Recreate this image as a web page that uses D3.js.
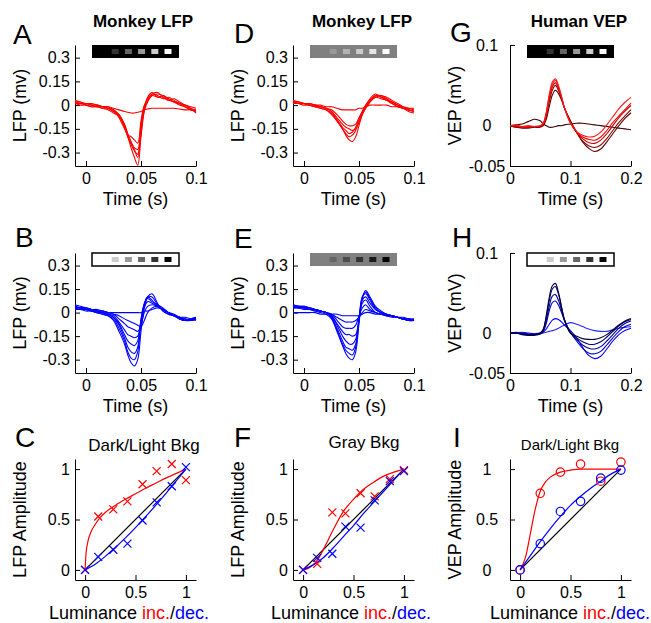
<!DOCTYPE html>
<html>
<head>
<meta charset="utf-8">
<script src="https://cdn.jsdelivr.net/npm/d3@7"></script>
<style>
body { margin: 0; background: #fff; }
svg { font-family: "Liberation Sans", Arial, Helvetica, sans-serif; }
.axis path, .axis line { stroke: #000; stroke-width: 1; }
.axis text { font-family: "Liberation Sans", Arial, Helvetica, sans-serif; font-size: 16px; fill: #000; }
</style>
</head>
<body>
<svg id="fig" width="651" height="623"></svg>
<script>
// ---- monkey LFP traces (mV), time in ms ----
const lfpTimeMs = [-10, -5, 0, 5, 10, 15, 20, 25, 30, 35, 38, 41, 44, 47, 50, 53, 56, 60, 65, 70, 75, 80, 85, 90, 95, 100];

// A: luminance increments, dark background
const lfpIncDark = [
    [0.02, 0.01, 0.01, 0.0, 0.0, -0.01, -0.01, -0.02, -0.03, -0.04, -0.045, -0.05, -0.05, -0.045, -0.04, -0.03, -0.025, -0.02, -0.02, -0.02, -0.02, -0.02, -0.025, -0.03, -0.03, -0.035],
    [0.03, 0.02, 0.01, 0.01, 0.0, -0.01, -0.01, -0.03, -0.08, -0.15, -0.19, -0.2, -0.22, -0.24, -0.1, 0.0, 0.03, 0.06, 0.05, 0.05, 0.03, 0.02, 0.01, 0.0, -0.01, -0.02],
    [0.02, 0.02, 0.0, 0.0, -0.01, -0.01, -0.02, -0.04, -0.07, -0.14, -0.2, -0.24, -0.27, -0.28, -0.12, -0.01, 0.04, 0.07, 0.06, 0.04, 0.05, 0.03, 0.01, 0.0, -0.02, -0.03],
    [0.01, 0.0, 0.0, -0.01, -0.01, -0.02, -0.02, -0.04, -0.06, -0.13, -0.19, -0.25, -0.29, -0.31, -0.15, -0.02, 0.05, 0.08, 0.05, 0.06, 0.04, 0.02, 0.0, -0.01, -0.03, -0.04],
    [0.02, 0.01, 0.01, 0.0, 0.0, -0.01, -0.02, -0.03, -0.06, -0.12, -0.18, -0.23, -0.28, -0.33, -0.18, -0.03, 0.03, 0.07, 0.08, 0.05, 0.03, 0.04, 0.02, 0.0, -0.02, -0.05],
    [0.01, 0.01, 0.0, -0.01, -0.01, -0.02, -0.03, -0.05, -0.07, -0.13, -0.2, -0.27, -0.33, -0.38, -0.2, -0.04, 0.02, 0.06, 0.07, 0.06, 0.04, 0.02, 0.01, -0.01, -0.03, -0.04]
];

// B: luminance decrements, light background
const lfpDecLight = [
    [0.03, 0.03, 0.02, 0.02, 0.01, 0.01, 0.0, 0.0, 0.0, 0.0, 0.0, 0.0, 0.0, 0.0, 0.0, 0.01, 0.01, 0.02, 0.03, 0.02, 0.0, -0.02, -0.03, -0.03, -0.04, -0.04],
    [0.04, 0.03, 0.03, 0.02, 0.01, 0.01, 0.0, -0.01, -0.02, -0.04, -0.05, -0.06, -0.07, -0.08, -0.09, -0.05, 0.0, 0.03, 0.04, 0.02, 0.0, -0.02, -0.03, -0.05, -0.04, -0.05],
    [0.05, 0.04, 0.03, 0.02, 0.02, 0.01, 0.0, -0.01, -0.04, -0.07, -0.09, -0.1, -0.11, -0.12, -0.08, 0.0, 0.04, 0.05, 0.04, 0.02, 0.0, -0.02, -0.04, -0.05, -0.05, -0.04],
    [0.03, 0.03, 0.02, 0.02, 0.01, 0.0, -0.01, -0.02, -0.06, -0.11, -0.14, -0.15, -0.16, -0.15, -0.06, 0.03, 0.07, 0.06, 0.04, 0.02, 0.0, -0.02, -0.03, -0.04, -0.05, -0.04],
    [0.04, 0.03, 0.02, 0.01, 0.01, 0.0, -0.01, -0.03, -0.07, -0.14, -0.18, -0.2, -0.21, -0.18, -0.05, 0.05, 0.09, 0.07, 0.05, 0.03, 0.0, -0.02, -0.03, -0.05, -0.04, -0.03],
    [0.03, 0.03, 0.02, 0.01, 0.0, 0.0, -0.01, -0.03, -0.08, -0.16, -0.22, -0.25, -0.26, -0.22, -0.04, 0.06, 0.1, 0.08, 0.04, 0.02, 0.0, -0.01, -0.03, -0.04, -0.05, -0.04],
    [0.02, 0.02, 0.01, 0.01, 0.0, -0.01, -0.02, -0.04, -0.1, -0.18, -0.25, -0.29, -0.3, -0.25, -0.06, 0.05, 0.1, 0.1, 0.05, 0.01, -0.01, -0.02, -0.04, -0.05, -0.04, -0.04],
    [0.03, 0.02, 0.02, 0.01, 0.0, -0.01, -0.02, -0.05, -0.12, -0.2, -0.27, -0.32, -0.34, -0.3, -0.12, 0.03, 0.1, 0.12, 0.06, 0.01, -0.01, -0.02, -0.04, -0.05, -0.04, -0.03]
];

// D: increments on gray background
const lfpIncGray = [
    [0.02, 0.02, 0.01, 0.01, 0.0, 0.0, -0.01, -0.01, -0.02, -0.03, -0.03, -0.03, -0.03, -0.03, -0.02, -0.02, -0.01, 0.0, 0.0, 0.0, 0.0, -0.01, -0.01, -0.02, -0.02, -0.02],
    [0.02, 0.01, 0.01, 0.0, 0.0, -0.01, -0.02, -0.03, -0.06, -0.1, -0.12, -0.13, -0.13, -0.12, -0.08, -0.04, -0.01, 0.03, 0.05, 0.04, 0.03, 0.01, 0.0, -0.01, -0.02, -0.03],
    [0.03, 0.02, 0.01, 0.01, 0.0, -0.01, -0.02, -0.04, -0.08, -0.12, -0.14, -0.15, -0.16, -0.15, -0.11, -0.06, -0.02, 0.02, 0.06, 0.05, 0.03, 0.02, 0.0, -0.02, -0.03, -0.04],
    [0.02, 0.02, 0.01, 0.0, -0.01, -0.01, -0.02, -0.04, -0.09, -0.14, -0.16, -0.18, -0.17, -0.14, -0.09, -0.04, 0.0, 0.04, 0.07, 0.05, 0.04, 0.01, -0.01, -0.02, -0.04, -0.05],
    [0.01, 0.01, 0.01, 0.0, -0.01, -0.02, -0.03, -0.05, -0.1, -0.15, -0.18, -0.2, -0.19, -0.16, -0.1, -0.05, -0.01, 0.03, 0.06, 0.06, 0.04, 0.02, 0.0, -0.02, -0.03, -0.04],
    [0.02, 0.01, 0.0, 0.0, -0.01, -0.02, -0.03, -0.06, -0.1, -0.15, -0.19, -0.22, -0.23, -0.2, -0.13, -0.06, -0.02, 0.02, 0.05, 0.06, 0.05, 0.03, 0.01, -0.01, -0.03, -0.04]
];

// E: decrements on gray background
const lfpDecGray = [
    [0.0, 0.0, 0.0, 0.0, 0.0, -0.01, -0.01, -0.01, -0.01, -0.02, -0.02, -0.02, -0.02, -0.02, -0.02, -0.01, 0.0, 0.0, -0.01, -0.01, -0.02, -0.02, -0.03, -0.03, -0.04, -0.04],
    [0.04, 0.04, 0.03, 0.03, 0.02, 0.01, 0.0, -0.01, -0.03, -0.05, -0.06, -0.06, -0.06, -0.05, -0.03, 0.0, 0.02, 0.01, 0.0, -0.01, -0.01, -0.02, -0.03, -0.04, -0.04, -0.05],
    [0.05, 0.04, 0.04, 0.03, 0.02, 0.01, 0.0, -0.01, -0.05, -0.09, -0.1, -0.1, -0.1, -0.08, -0.02, 0.03, 0.05, 0.02, 0.0, -0.01, -0.02, -0.02, -0.03, -0.04, -0.04, -0.05],
    [0.04, 0.04, 0.03, 0.02, 0.02, 0.01, 0.0, -0.02, -0.07, -0.12, -0.14, -0.14, -0.15, -0.14, -0.04, 0.06, 0.08, 0.04, 0.0, -0.01, -0.02, -0.03, -0.03, -0.04, -0.05, -0.04],
    [0.03, 0.03, 0.03, 0.02, 0.01, 0.01, 0.0, -0.02, -0.08, -0.15, -0.18, -0.2, -0.2, -0.17, -0.05, 0.08, 0.1, 0.06, 0.02, 0.0, -0.02, -0.02, -0.03, -0.04, -0.04, -0.05],
    [0.05, 0.04, 0.04, 0.03, 0.02, 0.01, 0.0, -0.03, -0.1, -0.18, -0.22, -0.23, -0.24, -0.2, -0.04, 0.1, 0.12, 0.08, 0.02, 0.0, -0.01, -0.02, -0.03, -0.04, -0.05, -0.05],
    [0.04, 0.03, 0.03, 0.02, 0.02, 0.01, 0.0, -0.03, -0.11, -0.2, -0.24, -0.26, -0.27, -0.22, -0.05, 0.1, 0.13, 0.09, 0.03, 0.0, -0.01, -0.02, -0.03, -0.04, -0.04, -0.05],
    [0.03, 0.03, 0.02, 0.02, 0.01, 0.0, -0.01, -0.04, -0.12, -0.21, -0.26, -0.29, -0.3, -0.25, -0.07, 0.09, 0.14, 0.1, 0.04, 0.01, -0.01, -0.02, -0.03, -0.04, -0.05, -0.05]
];

// ---- human VEP traces (mV), time in ms ----
const vepTimeMs = [0, 10, 20, 30, 40, 50, 55, 60, 65, 70, 75, 80, 85, 90, 100, 110, 120, 130, 140, 150, 160, 170, 180, 190, 200];

const vepInc = [
    [0, 0.001, 0.002, 0.005, 0.008, 0.006, 0.002, 0.0, -0.002, -0.002, -0.001, 0.0, 0.0, 0.001, 0.002, 0.003, 0.003, 0.002, 0.001, 0.0, -0.001, -0.002, -0.003, -0.004, -0.005],
    [0, -0.002, -0.003, -0.003, -0.002, -0.002, 0.0, 0.008, 0.024, 0.038, 0.044, 0.04, 0.032, 0.022, 0.006, -0.008, -0.02, -0.028, -0.032, -0.029, -0.02, -0.01, 0.0, 0.009, 0.016],
    [0, -0.002, -0.002, -0.002, -0.001, -0.001, 0.001, 0.012, 0.03, 0.044, 0.05, 0.044, 0.034, 0.022, 0.005, -0.008, -0.019, -0.025, -0.027, -0.024, -0.016, -0.006, 0.004, 0.012, 0.02],
    [0, -0.001, -0.001, -0.002, -0.001, -0.001, 0.002, 0.014, 0.034, 0.048, 0.053, 0.046, 0.035, 0.022, 0.004, -0.008, -0.016, -0.021, -0.022, -0.018, -0.01, 0.0, 0.01, 0.018, 0.025],
    [0, 0.0, -0.002, -0.001, -0.001, 0.0, 0.003, 0.016, 0.037, 0.051, 0.056, 0.048, 0.036, 0.022, 0.003, -0.008, -0.014, -0.017, -0.018, -0.014, -0.006, 0.004, 0.012, 0.02, 0.028],
    [0, 0.001, -0.001, 0.0, -0.001, 0.0, 0.003, 0.017, 0.039, 0.054, 0.058, 0.05, 0.037, 0.022, 0.003, -0.007, -0.012, -0.014, -0.013, -0.008, 0.001, 0.011, 0.021, 0.029, 0.035]
];
const vepIncColors = ["#3a0000", "#5e0000", "#8c0000", "#c80000", "#ff0000", "#ff1a1a"];

const vepDec = [
    [0, 0.001, 0.0, -0.001, -0.001, 0.0, 0.0, 0.001, 0.002, 0.003, 0.004, 0.006, 0.008, 0.01, 0.013, 0.011, 0.008, 0.005, 0.003, 0.002, 0.002, 0.004, 0.006, 0.007, 0.008],
    [0, 0.0, 0.001, 0.0, -0.001, -0.001, 0.001, 0.005, 0.011, 0.016, 0.018, 0.017, 0.014, 0.01, 0.003, -0.006, -0.018, -0.028, -0.032, -0.029, -0.02, -0.01, -0.002, 0.003, 0.006],
    [0, 0.0, -0.001, -0.002, -0.002, -0.001, 0.002, 0.012, 0.028, 0.038, 0.04, 0.035, 0.026, 0.016, 0.001, -0.01, -0.019, -0.025, -0.026, -0.023, -0.015, -0.006, 0.002, 0.008, 0.011],
    [0, 0.0, -0.001, -0.002, -0.002, -0.001, 0.003, 0.015, 0.034, 0.046, 0.048, 0.041, 0.029, 0.016, 0.0, -0.008, -0.015, -0.019, -0.02, -0.017, -0.01, -0.002, 0.006, 0.012, 0.015],
    [0, 0.0, -0.002, -0.003, -0.003, -0.001, 0.004, 0.02, 0.041, 0.055, 0.058, 0.049, 0.033, 0.017, 0.0, -0.006, -0.011, -0.014, -0.014, -0.011, -0.005, 0.002, 0.009, 0.014, 0.017],
    [0, 0.0, -0.001, -0.002, -0.002, 0.0, 0.005, 0.022, 0.045, 0.059, 0.062, 0.051, 0.033, 0.016, 0.0, -0.004, -0.007, -0.008, -0.008, -0.006, -0.002, 0.004, 0.01, 0.015, 0.018]
];
const vepDecColors = ["#2a2aff", "#0000ff", "#0000cc", "#000099", "#000066", "#000033"];

// ---- stimulus luminance bars (gray levels) ----
const barIncDark = [0, 0.2, 0.4, 0.6, 0.8, 1];
const barDecLight = [1, 0.8, 0.6, 0.4, 0.2, 0];
const barIncGray = [0.5, 0.6, 0.7, 0.8, 0.9, 1];
const barDecGray = [0.5, 0.4, 0.3, 0.2, 0.1, 0];

// ---- normalized amplitude vs luminance ----
const lumDark = [0, 0.13, 0.28, 0.42, 0.57, 0.71, 0.86, 1];
const ampIncDark = [0, 0.53, 0.6, 0.68, 0.85, 0.98, 1.05, 0.89];
const ampDecDark = [0, 0.13, 0.2, 0.26, 0.49, 0.67, 0.83, 1.02];

const lumGray = [0, 0.14, 0.29, 0.42, 0.57, 0.71, 0.86, 1];
const ampIncGray = [0, 0.06, 0.57, 0.56, 0.76, 0.73, 0.9, 0.99];
const ampDecGray = [0, 0.12, 0.16, 0.43, 0.42, 0.69, 0.88, 0.98];

const lumVep = [0, 0.2, 0.4, 0.6, 0.8, 1];
const ampIncVep = [0, 0.76, 0.97, 1.05, 0.88, 1.07];
const ampDecVep = [0, 0.26, 0.58, 0.68, 0.91, 0.99];

// fitted curves
const fitGrid = [0, 0.1, 0.2, 0.3, 0.4, 0.5, 0.6, 0.7, 0.8, 0.9, 1];
const fitIncDarkX = [0, 0.01, 0.03, 0.06, 0.1, 0.15, 0.2, 0.3, 0.4, 0.5, 0.6, 0.7, 0.8, 0.9, 1];
const fitIncDarkY = [0, 0.17, 0.29, 0.38, 0.45, 0.52, 0.57, 0.64, 0.7, 0.755, 0.81, 0.86, 0.91, 0.955, 1];
const fitDecDarkY = [0, 0.056, 0.134, 0.222, 0.318, 0.42, 0.528, 0.64, 0.757, 0.877, 1];
const fitIncGrayX = [0, 0.05, 0.1, 0.15, 0.2, 0.25, 0.3, 0.4, 0.5, 0.6, 0.7, 0.8, 0.9, 1];
const fitIncGrayY = [0, 0.015, 0.05, 0.11, 0.2, 0.3, 0.4, 0.58, 0.7, 0.8, 0.87, 0.93, 0.97, 1];
const fitDecGrayY = [0, 0.05, 0.12, 0.22, 0.33, 0.44, 0.56, 0.67, 0.78, 0.89, 1];
const fitIncVepX = [0, 0.03, 0.06, 0.1, 0.15, 0.2, 0.25, 0.3, 0.35, 0.4, 0.5, 0.6, 0.8, 1];
const fitIncVepY = [0, 0.06, 0.15, 0.35, 0.6, 0.78, 0.87, 0.92, 0.95, 0.97, 0.99, 1, 1, 1];
const fitDecVepY = [0, 0.14, 0.28, 0.41, 0.53, 0.64, 0.73, 0.81, 0.88, 0.95, 1];
const unityLine = [0, 1];

// ---- ticks ----
const lfpYTicks = [-0.3, -0.15, 0, 0.15, 0.3];
const lfpXTicks = [0, 0.05, 0.1];
const vepYTicks = [-0.05, 0, 0.1];
const vepXTicks = [0, 0.1, 0.2];
const ampTicks = [0, 0.5, 1];

// ---- layout ----
const COLS = [[75, 196], [293, 414], [510, 631]];
const ROWS = [[45, 166], [253, 373], [459, 580]];
const RED = "#ff0000", BLUE = "#0000ff";

const svg = d3.select("#fig");

function addPanel(col, row, xDomain, yDomain, xTicks, yTicks, centerYLabels){
    let [x0, x1] = COLS[col],
        [y0, y1] = ROWS[row];
    let x = d3.scaleLinear().domain(xDomain).range([x0, x1]);
    let y = d3.scaleLinear().domain(yDomain).range([y1, y0]);

    let yAxis = d3.axisLeft(y)
        .tickValues(yTicks)
        .tickSizeInner(-5)
        .tickSizeOuter(0)
        .tickPadding(5)
        .tickFormat(d => String(d));
    let gy = svg.append("g")
        .attr("class", "axis")
        .attr("transform", `translate(${x0},0)`)
        .call(yAxis);
    // third column has centred tick labels
    if(centerYLabels){
        gy.selectAll(".tick text").attr("text-anchor", "middle").attr("x", -23);
    }

    let xAxis = d3.axisBottom(x)
        .tickValues(xTicks)
        .tickSizeInner(-5)
        .tickSizeOuter(0)
        .tickPadding(7)
        .tickFormat(d => String(d));
    svg.append("g")
        .attr("class", "axis")
        .attr("transform", `translate(0,${y1})`)
        .call(xAxis);

    return {x, y, col, row};
}

function drawTraces(p, timeMs, traces, colors){
    let line = d3.line()
        .x((d, i) => p.x(timeMs[i] / 1000))
        .y(d => p.y(d))
        .curve(d3.curveCatmullRom.alpha(0.5));
    svg.append("g").selectAll("path")
        .data(traces)
        .join("path")
            .attr("d", line)
            .attr("fill", "none")
            .attr("stroke", (d, i) => Array.isArray(colors) ? colors[i] : colors)
            .attr("stroke-width", 1.1);
}

function drawLumBar(p, bg, levels, border){
    let left = COLS[p.col][0] + 17,
        top = ROWS[p.row][0];
    let slot = d3.scaleBand().domain(d3.range(levels.length)).range([left + 3.4, left + 82.6]);
    let grey = v => d3.rgb(255 * v, 255 * v, 255 * v);
    svg.append("rect")
        .attr("x", left).attr("y", top)
        .attr("width", 87).attr("height", 13)
        .attr("fill", grey(bg))
        .attr("stroke", border ? "#000" : "none")
        .attr("stroke-width", 1.5);
    svg.append("g").selectAll("rect")
        .data(levels)
        .join("rect")
            .attr("x", (d, i) => slot(i) + slot.bandwidth() / 2 - 3.5)
            .attr("y", top + 4)
            .attr("width", 7)
            .attr("height", 5)
            .attr("fill", d => grey(d));
}

function drawFit(p, xs, ys, color){
    let line = d3.line()
        .x((d, i) => p.x(xs[i]))
        .y(d => p.y(d))
        .curve(d3.curveMonotoneX);
    svg.append("path")
        .datum(ys)
        .attr("d", line)
        .attr("fill", "none")
        .attr("stroke", color)
        .attr("stroke-width", 1.2);
}

function drawCrosses(p, xs, ys, color){
    svg.append("g").selectAll("path")
        .data(ys)
        .join("path")
            .attr("transform", (d, i) => `translate(${p.x(xs[i])},${p.y(d)})`)
            .attr("d", "M-4,-4L4,4M-4,4L4,-4")
            .attr("stroke", color)
            .attr("stroke-width", 1.2)
            .attr("fill", "none");
}

function drawCircles(p, xs, ys, color){
    svg.append("g").selectAll("circle")
        .data(ys)
        .join("circle")
            .attr("cx", (d, i) => p.x(xs[i]))
            .attr("cy", d => p.y(d))
            .attr("r", 4.2)
            .attr("stroke", color)
            .attr("stroke-width", 1.2)
            .attr("fill", "none");
}

function text(x, y, str, size, opts = {}){
    return svg.append("text")
        .attr("x", x).attr("y", y)
        .attr("font-size", size)
        .attr("font-weight", opts.bold ? "bold" : null)
        .attr("text-anchor", opts.anchor || "middle")
        .text(str);
}

function yLabel(p, str){
    let cx = COLS[p.col][0] - 55,
        cy = (ROWS[p.row][0] + ROWS[p.row][1]) / 2;
    svg.append("text")
        .attr("transform", `translate(${cx},${cy}) rotate(-90)`)
        .attr("dy", "0.35em")
        .attr("text-anchor", "middle")
        .attr("font-size", 18)
        .text(str);
}

function timeLabel(p){
    text((COLS[p.col][0] + COLS[p.col][1]) / 2, ROWS[p.row][1] + 39, "Time (s)", 18);
}

function lumLabel(cx, p){
    let t = svg.append("text")
        .attr("x", cx).attr("y", ROWS[p.row][1] + 39)
        .attr("text-anchor", "middle")
        .attr("font-size", 18);
    t.append("tspan").text("Luminance ");
    t.append("tspan").attr("fill", RED).text("inc.");
    t.append("tspan").text("/");
    t.append("tspan").attr("fill", BLUE).text("dec.");
}

const lfpX = [-0.01, 0.1], lfpY = [-0.385, 0.38];
const vepX = [0, 0.2], vepY = [-0.05, 0.1];
const ampD = [-0.1, 1.1];

// --- A ---
let pA = addPanel(0, 0, lfpX, lfpY, lfpXTicks, lfpYTicks, false);
drawLumBar(pA, 0, barIncDark, false);
drawTraces(pA, lfpTimeMs, lfpIncDark, RED);
yLabel(pA, "LFP (mv)");
timeLabel(pA);

// --- B ---
let pB = addPanel(0, 1, lfpX, lfpY, lfpXTicks, lfpYTicks, false);
drawLumBar(pB, 1, barDecLight, true);
drawTraces(pB, lfpTimeMs, lfpDecLight, BLUE);
yLabel(pB, "LFP (mv)");
timeLabel(pB);

// --- C ---
let pC = addPanel(0, 2, ampD, ampD, ampTicks, ampTicks, false);
drawFit(pC, unityLine, unityLine, "#000");
drawFit(pC, fitIncDarkX, fitIncDarkY, RED);
drawFit(pC, fitGrid, fitDecDarkY, BLUE);
drawCrosses(pC, lumDark, ampIncDark, RED);
drawCrosses(pC, lumDark, ampDecDark, BLUE);
yLabel(pC, "LFP Amplitude");
lumLabel(129, pC);

// --- D ---
let pD = addPanel(1, 0, lfpX, lfpY, lfpXTicks, lfpYTicks, false);
drawLumBar(pD, 0.5, barIncGray, false);
drawTraces(pD, lfpTimeMs, lfpIncGray, RED);
yLabel(pD, "LFP (mv)");
timeLabel(pD);

// --- E ---
let pE = addPanel(1, 1, lfpX, lfpY, lfpXTicks, lfpYTicks, false);
drawLumBar(pE, 0.5, barDecGray, false);
drawTraces(pE, lfpTimeMs, lfpDecGray, BLUE);
yLabel(pE, "LFP (mv)");
timeLabel(pE);

// --- F ---
let pF = addPanel(1, 2, ampD, ampD, ampTicks, ampTicks, false);
drawFit(pF, unityLine, unityLine, "#000");
drawFit(pF, fitIncGrayX, fitIncGrayY, RED);
drawFit(pF, fitGrid, fitDecGrayY, BLUE);
drawCrosses(pF, lumGray, ampIncGray, RED);
drawCrosses(pF, lumGray, ampDecGray, BLUE);
yLabel(pF, "LFP Amplitude");
lumLabel(351, pF);

// --- G ---
let pG = addPanel(2, 0, vepX, vepY, vepXTicks, vepYTicks, true);
drawLumBar(pG, 0, barIncDark, false);
drawTraces(pG, vepTimeMs, vepInc, vepIncColors);
yLabel(pG, "VEP (mV)");
timeLabel(pG);

// --- H ---
let pH = addPanel(2, 1, vepX, vepY, vepXTicks, vepYTicks, true);
drawLumBar(pH, 1, barDecLight, true);
drawTraces(pH, vepTimeMs, vepDec, vepDecColors);
yLabel(pH, "VEP (mV)");
timeLabel(pH);

// --- I ---
let pI = addPanel(2, 2, ampD, ampD, ampTicks, ampTicks, true);
drawFit(pI, unityLine, unityLine, "#000");
drawFit(pI, fitIncVepX, fitIncVepY, RED);
drawFit(pI, fitGrid, fitDecVepY, BLUE);
drawCircles(pI, lumVep, ampIncVep, RED);
drawCircles(pI, lumVep, ampDecVep, BLUE);
yLabel(pI, "VEP Amplitude");
lumLabel(570, pI);

// titles
text(143, 27, "Monkey LFP", 17, {bold: true});
text(362, 27, "Monkey LFP", 17, {bold: true});
text(579, 27, "Human VEP", 17, {bold: true});
text(144, 451, "Dark/Light Bkg", 17);
text(364, 448, "Gray Bkg", 17);
text(570, 450, "Dark/Light Bkg", 15);

// panel letters
[["A", 13, 44], ["B", 15, 247], ["C", 15, 447],
 ["D", 234, 43], ["E", 234, 248], ["F", 234, 447],
 ["G", 450, 42], ["H", 452, 247], ["I", 453, 447]].forEach(([s, x, y]) => {
    text(x, y, s, 28, {anchor: "start"});
});
</script>
</body>
</html>
